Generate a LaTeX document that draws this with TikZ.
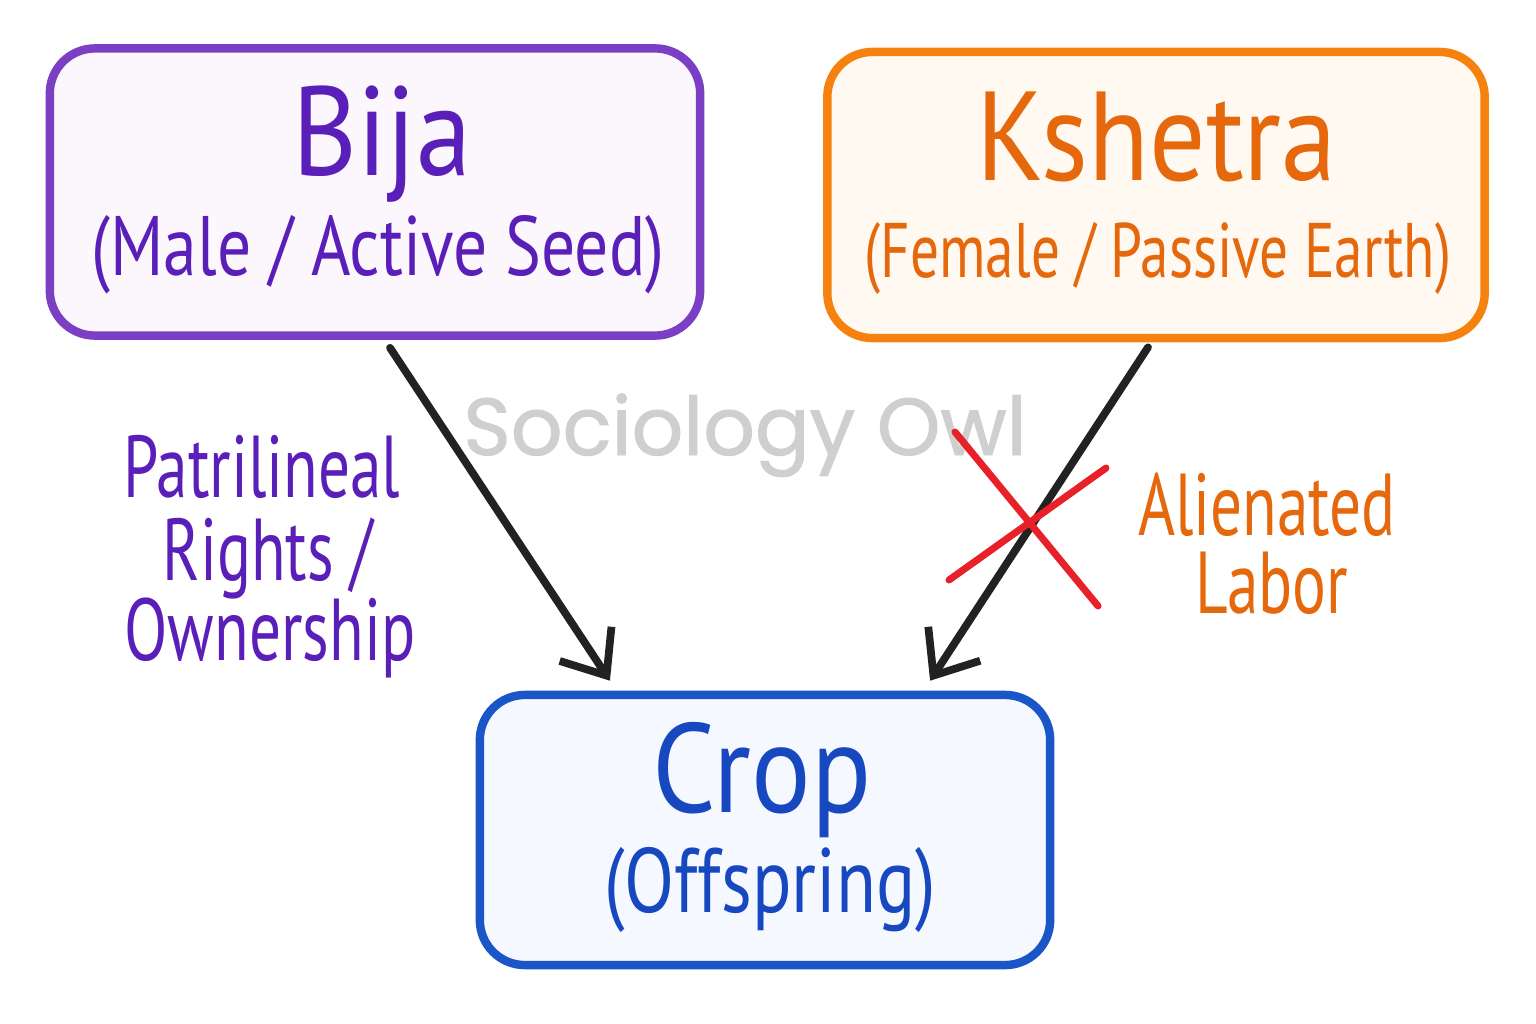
\documentclass[tikz,border=0pt]{standalone}
\usepackage{fontspec}
\setmainfont{PT Sans}
\newfontfamily\titlefont[FakeStretch=0.88]{PT Sans}
\newfontfamily\handfont[FakeStretch=0.8]{PT Sans}
\newfontfamily\narrowfont[FakeStretch=0.74]{PT Sans}
\newfontfamily\sidefont[FakeStretch=0.72]{PT Sans}
\newfontfamily\wmfont[FakeBold=1.2]{Poppins}
\usetikzlibrary{arrows.meta}
\definecolor{purpline}{HTML}{7B3FC4}
\definecolor{purptext}{HTML}{5A1FB8}
\definecolor{purpfill}{HTML}{FBF7FD}
\definecolor{orgline}{HTML}{F5820F}
\definecolor{orgtext}{HTML}{E5680C}
\definecolor{orgfill}{HTML}{FFF9F2}
\definecolor{blueline}{HTML}{1A56C8}
\definecolor{bluetext}{HTML}{1848C0}
\definecolor{bluefill}{HTML}{F5F8FE}
\definecolor{inkblack}{HTML}{222222}
\definecolor{xred}{HTML}{E8202A}
\definecolor{wmgray}{HTML}{CFCFCF}
\tikzset{
  box/.style={draw, line width=2.4pt, rounded corners=0.45cm, inner sep=0pt, align=center},
  titletext/.style={font=\titlefont\fontsize{36}{40}\selectfont, anchor=base, inner sep=0pt},
  subtext/.style={font=\handfont\fontsize{24}{28}\selectfont, anchor=base, inner sep=0pt},
  conn/.style={draw=inkblack, line width=2.2pt, line cap=round, -{Straight Barb[length=0.38cm, width=0.62cm, line width=2.2pt]}},
  crossline/.style={draw=xred, line width=2pt, line cap=round},
  sidelabel/.style={font=\sidefont\fontsize{25}{28}\selectfont, anchor=base, inner sep=0pt},
}
\begin{document}
\begin{tikzpicture}[x=0.01cm, y=-0.01cm]
\useasboundingbox[fill=white] (0,0) rectangle (1536,1024);
% watermark
\node[font=\wmfont\fontsize{23}{26}\selectfont, text=wmgray, anchor=base, inner sep=0pt] (wm) at (745,455) {Sociology Owl};
% boxes
\node[box, draw=purpline, fill=purpfill, minimum width=6.5cm, minimum height=2.87cm] (bija) at (375,192) {};
\node[box, draw=orgline, fill=orgfill, minimum width=6.57cm, minimum height=2.86cm] (kshetra) at (1156,195) {};
\node[box, draw=blueline, fill=bluefill, minimum width=5.7cm, minimum height=2.7cm] (crop) at (765,830) {};
% texts
\node[titletext, text=purptext] (bijat) at (382,175) {Bija};
\node[subtext, text=purptext] (bijas) at (378,275) {(Male / Active Seed)};
\node[titletext, text=orgtext] (kshetrat) at (1157,180) {Kshetra};
\node[subtext, font=\narrowfont\fontsize{22}{26}\selectfont, text=orgtext] (kshetras) at (1158,277) {(Female / Passive Earth)};
\node[titletext, text=bluetext] (cropt) at (762,812) {Crop};
\node[subtext, font=\handfont\fontsize{26}{30}\selectfont, text=bluetext] (crops) at (770,912) {(Offspring)};
% arrows
\draw[conn] ([xshift=0.15cm, yshift=-0.08cm]bija.south) -- ([xshift=-1.55cm, yshift=0.1cm]crop.north);
\draw[conn] ([xshift=-0.08cm, yshift=-0.05cm]kshetra.south) -- ([xshift=1.65cm, yshift=0.1cm]crop.north);
% red cross
\coordinate (xa1) at (955,432);
\coordinate (xa2) at (1098,606);
\coordinate (xb1) at (949,580);
\coordinate (xb2) at (1106,468);
\draw[crossline] (xa1) -- (xa2);
\draw[crossline] (xb1) -- (xb2);
% side labels
\node[sidelabel, text=purptext] (patri1) at (262,497) {Patrilineal};
\node[sidelabel, text=purptext] (patri2) at (268,580) {Rights /};
\node[sidelabel, text=purptext] (patri3) at (270,660) {Ownership};
\node[sidelabel, text=orgtext] (alien1) at (1267,535) {Alienated};
\node[sidelabel, text=orgtext] (alien2) at (1272,613) {Labor};
\end{tikzpicture}
\end{document}
